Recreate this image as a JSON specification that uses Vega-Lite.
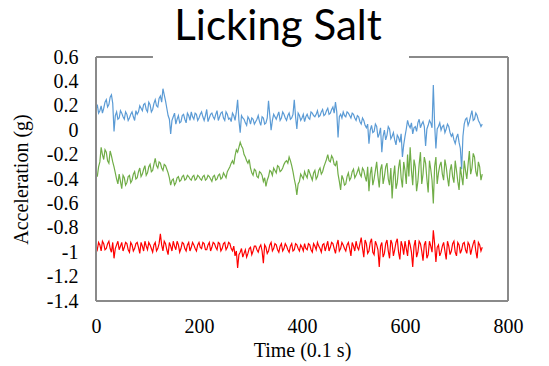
{
  "$schema": "https://vega.github.io/schema/vega-lite/v6.json",
  "autosize": "none",
  "width": 412,
  "height": 244,
  "padding": {"left": 96, "top": 57, "right": 41, "bottom": 65},
  "background": "white",
  "config": {
    "view": {"stroke": null},
    "axis": {"domain": false, "ticks": false, "grid": false, "labelFont": "Liberation Serif", "labelFontSize": 20, "labelColor": "black", "labelFlush": false, "labelOverlap": false, "titleFont": "Liberation Serif", "titleFontSize": 20, "titleFontWeight": "normal", "titleColor": "black"},
    "axisX": {"labelPadding": 15, "titlePadding": 4},
    "axisY": {"labelPadding": 18, "titlePadding": 15}
  },
  "title": {"text": "Licking Salt", "font": "Lato", "fontSize": 42, "fontWeight": "normal", "color": "black", "anchor": "middle", "frame": "group", "dx": -24, "dy": 35, "baseline": "alphabetic", "offset": 0},
  "data": {"values": [
{"t":0,"b":0.17,"g":-0.35,"r":-0.95},{"t":5,"b":0.14,"g":-0.30,"r":-0.92},{"t":10,"b":0.20,"g":-0.14,"r":-0.99},{"t":15,"b":0.18,"g":-0.24,"r":-0.93},{"t":20,"b":0.25,"g":-0.18,"r":-0.97},
{"t":25,"b":0.21,"g":-0.27,"r":-0.91},{"t":30,"b":0.29,"g":-0.21,"r":-1.00},{"t":35,"b":-0.01,"g":-0.30,"r":-1.05},{"t":40,"b":0.15,"g":-0.40,"r":-0.94},{"t":45,"b":0.10,"g":-0.36,"r":-0.98},
{"t":50,"b":0.14,"g":-0.48,"r":-0.92},{"t":55,"b":0.09,"g":-0.39,"r":-0.96},{"t":60,"b":0.13,"g":-0.43,"r":-0.93},{"t":65,"b":0.10,"g":-0.37,"r":-1.00},{"t":70,"b":0.15,"g":-0.41,"r":-0.94},
{"t":75,"b":0.08,"g":-0.34,"r":-0.97},{"t":80,"b":0.13,"g":-0.39,"r":-0.92},{"t":85,"b":0.20,"g":-0.31,"r":-1.01},{"t":90,"b":0.16,"g":-0.36,"r":-0.95},{"t":95,"b":0.22,"g":-0.29,"r":-0.91},
{"t":100,"b":0.15,"g":-0.35,"r":-0.98},{"t":105,"b":0.21,"g":-0.28,"r":-0.94},{"t":110,"b":0.17,"g":-0.33,"r":-1.00},{"t":115,"b":0.25,"g":-0.23,"r":-0.92},{"t":120,"b":0.19,"g":-0.31,"r":-0.97},
{"t":125,"b":0.28,"g":-0.27,"r":-0.85},{"t":130,"b":0.34,"g":-0.33,"r":-0.99},{"t":135,"b":0.24,"g":-0.29,"r":-0.93},{"t":140,"b":0.12,"g":-0.35,"r":-1.02},{"t":145,"b":-0.03,"g":-0.45,"r":-0.95},
{"t":150,"b":0.11,"g":-0.40,"r":-0.91},{"t":155,"b":0.05,"g":-0.43,"r":-0.98},{"t":160,"b":0.12,"g":-0.38,"r":-0.94},{"t":165,"b":0.07,"g":-0.41,"r":-0.97},{"t":170,"b":0.13,"g":-0.37,"r":-0.93},
{"t":175,"b":0.06,"g":-0.40,"r":-0.99},{"t":180,"b":0.12,"g":-0.38,"r":-0.92},{"t":185,"b":0.15,"g":-0.41,"r":-0.96},{"t":190,"b":0.09,"g":-0.37,"r":-0.94},{"t":195,"b":0.13,"g":-0.40,"r":-0.99},
{"t":200,"b":0.10,"g":-0.38,"r":-0.92},{"t":205,"b":0.15,"g":-0.41,"r":-0.97},{"t":210,"b":0.08,"g":-0.37,"r":-0.93},{"t":215,"b":0.17,"g":-0.40,"r":-0.98},{"t":220,"b":0.10,"g":-0.38,"r":-0.92},
{"t":225,"b":0.14,"g":-0.42,"r":-0.96},{"t":230,"b":0.09,"g":-0.37,"r":-0.93},{"t":235,"b":0.16,"g":-0.40,"r":-0.98},{"t":240,"b":0.11,"g":-0.36,"r":-0.93},{"t":245,"b":0.15,"g":-0.39,"r":-0.97},
{"t":250,"b":0.08,"g":-0.37,"r":-0.92},{"t":255,"b":0.13,"g":-0.34,"r":-0.96},{"t":260,"b":0.10,"g":-0.30,"r":-0.93},{"t":265,"b":0.14,"g":-0.25,"r":-0.99},{"t":270,"b":0.08,"g":-0.21,"r":-1.03},
{"t":275,"b":0.25,"g":-0.18,"r":-1.13},{"t":280,"b":-0.02,"g":-0.10,"r":-1.00},{"t":285,"b":0.10,"g":-0.15,"r":-1.04},{"t":290,"b":0.06,"g":-0.22,"r":-0.98},{"t":295,"b":0.11,"g":-0.27,"r":-1.01},
{"t":300,"b":0.05,"g":-0.31,"r":-0.96},{"t":305,"b":0.09,"g":-0.37,"r":-0.99},{"t":310,"b":0.07,"g":-0.33,"r":-0.95},{"t":315,"b":0.12,"g":-0.39,"r":-1.00},{"t":320,"b":0.04,"g":-0.35,"r":-0.94},
{"t":325,"b":0.10,"g":-0.42,"r":-1.09},{"t":330,"b":0.06,"g":-0.46,"r":-0.96},{"t":335,"b":0.24,"g":-0.38,"r":-0.99},{"t":340,"b":0.00,"g":-0.34,"r":-0.92},{"t":345,"b":0.13,"g":-0.31,"r":-0.97},
{"t":350,"b":0.09,"g":-0.35,"r":-0.94},{"t":355,"b":0.15,"g":-0.30,"r":-1.00},{"t":360,"b":0.10,"g":-0.33,"r":-0.93},{"t":365,"b":0.13,"g":-0.28,"r":-0.97},{"t":370,"b":0.08,"g":-0.25,"r":-0.95},
{"t":375,"b":0.14,"g":-0.22,"r":-1.00},{"t":380,"b":0.10,"g":-0.29,"r":-0.93},{"t":385,"b":0.25,"g":-0.40,"r":-0.98},{"t":390,"b":0.01,"g":-0.53,"r":-0.94},{"t":395,"b":0.12,"g":-0.42,"r":-0.99},
{"t":400,"b":0.10,"g":-0.38,"r":-0.96},{"t":405,"b":0.07,"g":-0.34,"r":-0.93},{"t":410,"b":0.13,"g":-0.39,"r":-0.98},{"t":415,"b":0.09,"g":-0.35,"r":-0.94},{"t":420,"b":0.14,"g":-0.41,"r":-1.00},
{"t":425,"b":0.11,"g":-0.33,"r":-0.95},{"t":430,"b":0.16,"g":-0.38,"r":-0.92},{"t":435,"b":0.12,"g":-0.31,"r":-0.97},{"t":440,"b":0.17,"g":-0.34,"r":-0.94},{"t":445,"b":0.13,"g":-0.27,"r":-0.99},
{"t":450,"b":0.18,"g":-0.20,"r":-0.91},{"t":455,"b":0.14,"g":-0.26,"r":-0.96},{"t":460,"b":0.19,"g":-0.23,"r":-0.93},{"t":465,"b":0.23,"g":-0.29,"r":-1.01},{"t":470,"b":-0.06,"g":-0.36,"r":-0.90},
{"t":475,"b":0.13,"g":-0.49,"r":-0.97},{"t":480,"b":0.15,"g":-0.40,"r":-0.94},{"t":485,"b":0.11,"g":-0.44,"r":-0.99},{"t":490,"b":0.14,"g":-0.35,"r":-0.92},{"t":495,"b":0.10,"g":-0.39,"r":-1.03},
{"t":500,"b":0.13,"g":-0.32,"r":-0.95},{"t":505,"b":0.08,"g":-0.37,"r":-0.91},{"t":510,"b":0.11,"g":-0.31,"r":-0.98},{"t":515,"b":0.05,"g":-0.38,"r":-0.88},{"t":520,"b":0.08,"g":-0.33,"r":-1.04},
{"t":525,"b":0.02,"g":-0.42,"r":-0.93},{"t":530,"b":-0.11,"g":-0.50,"r":-0.99},{"t":535,"b":0.04,"g":-0.30,"r":-0.89},{"t":540,"b":-0.01,"g":-0.40,"r":-1.02},{"t":545,"b":0.03,"g":-0.26,"r":-0.94},
{"t":550,"b":-0.03,"g":-0.47,"r":-1.12},{"t":555,"b":-0.18,"g":-0.28,"r":-0.92},{"t":560,"b":0.00,"g":-0.38,"r":-1.01},{"t":565,"b":-0.04,"g":-0.27,"r":-0.90},{"t":570,"b":0.01,"g":-0.45,"r":-1.05},
{"t":575,"b":-0.05,"g":-0.56,"r":-0.93},{"t":580,"b":-0.08,"g":-0.29,"r":-0.98},{"t":585,"b":-0.04,"g":-0.43,"r":-0.89},{"t":590,"b":-0.10,"g":-0.24,"r":-1.06},{"t":595,"b":-0.22,"g":-0.47,"r":-0.95},
{"t":600,"b":-0.05,"g":-0.33,"r":-0.91},{"t":605,"b":0.08,"g":-0.20,"r":-1.03},{"t":610,"b":0.02,"g":-0.14,"r":-0.94},{"t":615,"b":-0.03,"g":-0.45,"r":-1.12},{"t":620,"b":0.03,"g":-0.30,"r":-0.90},
{"t":625,"b":0.06,"g":-0.42,"r":-1.00},{"t":630,"b":0.02,"g":-0.18,"r":-0.93},{"t":635,"b":0.07,"g":-0.36,"r":-1.07},{"t":640,"b":-0.13,"g":-0.27,"r":-0.91},{"t":645,"b":0.04,"g":-0.51,"r":-1.02},
{"t":650,"b":0.06,"g":-0.32,"r":-0.95},{"t":655,"b":0.37,"g":-0.60,"r":-0.82},{"t":660,"b":-0.15,"g":-0.22,"r":-1.08},{"t":665,"b":0.03,"g":-0.35,"r":-0.94},{"t":670,"b":0.00,"g":-0.26,"r":-1.00},
{"t":675,"b":0.04,"g":-0.41,"r":-0.92},{"t":680,"b":0.01,"g":-0.30,"r":-1.06},{"t":685,"b":0.03,"g":-0.46,"r":-0.95},{"t":690,"b":-0.05,"g":-0.28,"r":-0.99},{"t":695,"b":-0.08,"g":-0.43,"r":-0.91},
{"t":700,"b":-0.06,"g":-0.33,"r":-1.03},{"t":705,"b":-0.10,"g":-0.49,"r":-0.94},{"t":710,"b":-0.32,"g":-0.38,"r":-0.98},{"t":715,"b":0.05,"g":-0.25,"r":-0.92},{"t":720,"b":0.10,"g":-0.40,"r":-1.01},
{"t":725,"b":0.07,"g":-0.17,"r":-0.94},{"t":730,"b":0.16,"g":-0.31,"r":-0.97},{"t":735,"b":0.09,"g":-0.22,"r":-0.90},{"t":740,"b":0.12,"g":-0.38,"r":-1.05},{"t":745,"b":0.06,"g":-0.30,"r":-0.94},
{"t":750,"b":0.05,"g":-0.36,"r":-0.96},
{"t":2.5,"b":0.21,"g":-0.38,"r":-0.98},{"t":7.5,"b":0.16,"g":-0.26,"r":-0.94},{"t":12.5,"b":0.14,"g":-0.20,"r":-0.91},{"t":17.5,"b":0.23,"g":-0.16,"r":-0.98},{"t":22.5,"b":0.19,"g":-0.25,"r":-0.93},
{"t":27.5,"b":0.27,"g":-0.17,"r":-0.97},{"t":32.5,"b":0.22,"g":-0.26,"r":-0.92},{"t":37.5,"b":0.12,"g":-0.35,"r":-0.97},{"t":42.5,"b":0.09,"g":-0.44,"r":-0.91},{"t":47.5,"b":0.16,"g":-0.42,"r":-0.95},
{"t":52.5,"b":0.11,"g":-0.37,"r":-0.99},{"t":57.5,"b":0.15,"g":-0.45,"r":-0.92},{"t":62.5,"b":0.08,"g":-0.38,"r":-0.98},{"t":67.5,"b":0.13,"g":-0.43,"r":-0.92},{"t":72.5,"b":0.11,"g":-0.36,"r":-0.99},
{"t":77.5,"b":0.16,"g":-0.40,"r":-0.93},{"t":82.5,"b":0.15,"g":-0.34,"r":-0.96},{"t":87.5,"b":0.18,"g":-0.38,"r":-0.92},{"t":92.5,"b":0.21,"g":-0.32,"r":-0.99},{"t":97.5,"b":0.17,"g":-0.37,"r":-0.95},
{"t":102.5,"b":0.23,"g":-0.30,"r":-0.92},{"t":107.5,"b":0.15,"g":-0.34,"r":-0.97},{"t":112.5,"b":0.22,"g":-0.28,"r":-0.94},{"t":117.5,"b":0.20,"g":-0.29,"r":-0.99},{"t":122.5,"b":0.26,"g":-0.26,"r":-0.93},
{"t":127.5,"b":0.23,"g":-0.31,"r":-0.94},{"t":132.5,"b":0.29,"g":-0.28,"r":-0.91},{"t":137.5,"b":0.18,"g":-0.32,"r":-0.98},{"t":142.5,"b":0.09,"g":-0.39,"r":-0.92},{"t":147.5,"b":0.08,"g":-0.41,"r":-0.99},
{"t":152.5,"b":0.14,"g":-0.45,"r":-0.95},{"t":157.5,"b":0.09,"g":-0.39,"r":-0.91},{"t":162.5,"b":0.06,"g":-0.42,"r":-1.00},{"t":167.5,"b":0.12,"g":-0.38,"r":-0.92},{"t":172.5,"b":0.09,"g":-0.41,"r":-0.97},
{"t":177.5,"b":0.14,"g":-0.37,"r":-0.94},{"t":182.5,"b":0.08,"g":-0.40,"r":-0.99},{"t":187.5,"b":0.11,"g":-0.38,"r":-0.92},{"t":192.5,"b":0.14,"g":-0.41,"r":-0.97},{"t":197.5,"b":0.08,"g":-0.37,"r":-0.94},
{"t":202.5,"b":0.13,"g":-0.40,"r":-0.96},{"t":207.5,"b":0.11,"g":-0.38,"r":-0.92},{"t":212.5,"b":0.12,"g":-0.41,"r":-0.98},{"t":217.5,"b":0.07,"g":-0.37,"r":-0.94},{"t":222.5,"b":0.13,"g":-0.40,"r":-0.99},
{"t":227.5,"b":0.11,"g":-0.38,"r":-0.92},{"t":232.5,"b":0.13,"g":-0.41,"r":-0.96},{"t":237.5,"b":0.08,"g":-0.37,"r":-0.92},{"t":242.5,"b":0.14,"g":-0.40,"r":-0.99},{"t":247.5,"b":0.10,"g":-0.35,"r":-0.93},
{"t":252.5,"b":0.15,"g":-0.39,"r":-0.98},{"t":257.5,"b":0.09,"g":-0.32,"r":-0.92},{"t":262.5,"b":0.07,"g":-0.27,"r":-0.97},{"t":267.5,"b":0.12,"g":-0.28,"r":-0.95},{"t":272.5,"b":0.15,"g":-0.16,"r":-0.99},
{"t":277.5,"b":0.08,"g":-0.14,"r":-1.02},{"t":282.5,"b":0.12,"g":-0.13,"r":-0.97},{"t":287.5,"b":0.09,"g":-0.20,"r":-1.01},{"t":292.5,"b":0.04,"g":-0.25,"r":-1.04},{"t":297.5,"b":0.09,"g":-0.24,"r":-0.97},
{"t":302.5,"b":0.10,"g":-0.35,"r":-1.02},{"t":307.5,"b":0.05,"g":-0.32,"r":-0.95},{"t":312.5,"b":0.09,"g":-0.38,"r":-0.98},{"t":317.5,"b":0.07,"g":-0.34,"r":-0.96},{"t":322.5,"b":0.11,"g":-0.37,"r":-0.99},
{"t":327.5,"b":0.05,"g":-0.39,"r":-0.94},{"t":332.5,"b":0.10,"g":-0.41,"r":-1.01},{"t":337.5,"b":0.12,"g":-0.33,"r":-0.94},{"t":342.5,"b":0.08,"g":-0.37,"r":-0.99},{"t":347.5,"b":0.11,"g":-0.33,"r":-0.93},
{"t":352.5,"b":0.12,"g":-0.29,"r":-0.98},{"t":357.5,"b":0.08,"g":-0.34,"r":-0.95},{"t":362.5,"b":0.15,"g":-0.31,"r":-0.99},{"t":367.5,"b":0.10,"g":-0.26,"r":-0.93},{"t":372.5,"b":0.12,"g":-0.27,"r":-0.98},
{"t":377.5,"b":0.09,"g":-0.25,"r":-0.95},{"t":382.5,"b":0.13,"g":-0.34,"r":-0.99},{"t":387.5,"b":0.11,"g":-0.45,"r":-0.93},{"t":392.5,"b":0.14,"g":-0.44,"r":-0.97},{"t":397.5,"b":0.08,"g":-0.36,"r":-0.94},
{"t":402.5,"b":0.13,"g":-0.40,"r":-0.99},{"t":407.5,"b":0.11,"g":-0.37,"r":-0.97},{"t":412.5,"b":0.10,"g":-0.32,"r":-0.93},{"t":417.5,"b":0.15,"g":-0.38,"r":-0.98},{"t":422.5,"b":0.12,"g":-0.35,"r":-0.93},
{"t":427.5,"b":0.13,"g":-0.40,"r":-0.98},{"t":432.5,"b":0.11,"g":-0.33,"r":-0.95},{"t":437.5,"b":0.15,"g":-0.36,"r":-1.00},{"t":442.5,"b":0.12,"g":-0.30,"r":-0.93},{"t":447.5,"b":0.16,"g":-0.24,"r":-0.95},
{"t":452.5,"b":0.13,"g":-0.25,"r":-0.99},{"t":457.5,"b":0.17,"g":-0.21,"r":-0.92},{"t":462.5,"b":0.14,"g":-0.28,"r":-0.97},{"t":467.5,"b":0.15,"g":-0.25,"r":-0.94},{"t":472.5,"b":0.11,"g":-0.42,"r":-0.99},
{"t":477.5,"b":0.10,"g":-0.37,"r":-0.92},{"t":482.5,"b":0.12,"g":-0.45,"r":-0.97},{"t":487.5,"b":0.15,"g":-0.38,"r":-0.94},{"t":492.5,"b":0.12,"g":-0.41,"r":-0.97},{"t":497.5,"b":0.14,"g":-0.34,"r":-0.92},
{"t":502.5,"b":0.10,"g":-0.39,"r":-0.99},{"t":507.5,"b":0.12,"g":-0.34,"r":-0.96},{"t":512.5,"b":0.07,"g":-0.36,"r":-0.93},{"t":517.5,"b":0.10,"g":-0.31,"r":-0.97},{"t":522.5,"b":0.04,"g":-0.38,"r":-0.90},
{"t":527.5,"b":0.05,"g":-0.30,"r":-1.01},{"t":532.5,"b":0.00,"g":-0.36,"r":-0.92},{"t":537.5,"b":-0.02,"g":-0.45,"r":-1.00},{"t":542.5,"b":0.05,"g":-0.33,"r":-0.91},{"t":547.5,"b":-0.06,"g":-0.38,"r":-0.98},
{"t":552.5,"b":0.02,"g":-0.32,"r":-0.95},{"t":557.5,"b":-0.05,"g":-0.44,"r":-1.04},{"t":562.5,"b":-0.08,"g":-0.30,"r":-0.93},{"t":567.5,"b":0.03,"g":-0.40,"r":-0.99},{"t":572.5,"b":-0.07,"g":-0.31,"r":-0.90},
{"t":577.5,"b":-0.02,"g":-0.38,"r":-1.03},{"t":582.5,"b":-0.12,"g":-0.48,"r":-0.92},{"t":587.5,"b":-0.06,"g":-0.31,"r":-1.00},{"t":592.5,"b":-0.03,"g":-0.39,"r":-0.91},{"t":597.5,"b":-0.12,"g":-0.26,"r":-1.02},
{"t":602.5,"b":0.01,"g":-0.44,"r":-0.97},{"t":607.5,"b":0.04,"g":-0.38,"r":-0.90},{"t":612.5,"b":0.06,"g":-0.33,"r":-1.00},{"t":617.5,"b":0.02,"g":-0.24,"r":-0.95},{"t":622.5,"b":-0.01,"g":-0.50,"r":-1.04},
{"t":627.5,"b":0.09,"g":-0.28,"r":-0.91},{"t":632.5,"b":0.05,"g":-0.44,"r":-0.99},{"t":637.5,"b":0.03,"g":-0.22,"r":-0.94},{"t":642.5,"b":0.01,"g":-0.40,"r":-1.05},{"t":647.5,"b":0.08,"g":-0.25,"r":-0.91},
{"t":652.5,"b":0.02,"g":-0.41,"r":-1.00},{"t":657.5,"b":0.05,"g":-0.30,"r":-0.93},{"t":662.5,"b":0.01,"g":-0.44,"r":-0.96},{"t":667.5,"b":0.06,"g":-0.29,"r":-1.03},{"t":672.5,"b":0.03,"g":-0.36,"r":-0.95},
{"t":677.5,"b":-0.02,"g":-0.24,"r":-0.99},{"t":682.5,"b":0.05,"g":-0.39,"r":-0.91},{"t":687.5,"b":-0.02,"g":-0.33,"r":-1.02},{"t":692.5,"b":-0.03,"g":-0.38,"r":-0.93},{"t":697.5,"b":-0.11,"g":-0.25,"r":-1.00},
{"t":702.5,"b":-0.03,"g":-0.42,"r":-0.92},{"t":707.5,"b":-0.15,"g":-0.30,"r":-1.01},{"t":712.5,"b":-0.05,"g":-0.45,"r":-0.93},{"t":717.5,"b":0.09,"g":-0.33,"r":-0.98},{"t":722.5,"b":0.04,"g":-0.28,"r":-0.92},
{"t":727.5,"b":0.12,"g":-0.36,"r":-1.02},{"t":732.5,"b":0.08,"g":-0.19,"r":-0.93},{"t":737.5,"b":0.14,"g":-0.34,"r":-0.99},{"t":742.5,"b":0.08,"g":-0.26,"r":-0.92},{"t":747.5,"b":0.03,"g":-0.41,"r":-0.99}
  ]},
  "layer": [
    {
      "transform": [{"fold": ["b", "g", "r"], "as": ["series", "value"]}],
      "mark": {"type": "line", "strokeWidth": 1.2, "clip": true},
      "encoding": {
        "x": {"field": "t", "type": "quantitative", "scale": {"domain": [0, 800], "nice": false},
              "axis": {"values": [0, 200, 400, 600, 800], "title": "Time (0.1 s)"}},
        "y": {"field": "value", "type": "quantitative", "scale": {"domain": [-1.4, 0.6], "nice": false, "zero": false},
              "axis": {"values": [-1.4, -1.2, -1, -0.8, -0.6, -0.4, -0.2, 0, 0.2, 0.4, 0.6], "labelExpr": "'' + datum.value", "title": "Acceleration (g)"}},
        "color": {"field": "series", "type": "nominal", "scale": {"domain": ["b", "g", "r"], "range": ["#5B9BD5", "#70AD47", "#FF0000"]}, "legend": null},
        "order": {"field": "t", "type": "quantitative"}
      }
    },
    {"mark": {"type": "rule", "color": "#8a8a8a", "strokeWidth": 1.3}, "encoding": {
      "x": {"datum": 0, "type": "quantitative", "axis": {"values": [0, 200, 400, 600, 800], "title": "Time (0.1 s)"}},
      "y": {"datum": -1.4, "type": "quantitative", "axis": {"values": [-1.4, -1.2, -1, -0.8, -0.6, -0.4, -0.2, 0, 0.2, 0.4, 0.6], "labelExpr": "'' + datum.value", "title": "Acceleration (g)"}},
      "y2": {"datum": 0.6}}},
    {"mark": {"type": "rule", "color": "#8a8a8a", "strokeWidth": 1.3}, "encoding": {
      "x": {"datum": 800, "type": "quantitative", "axis": {"values": [0, 200, 400, 600, 800], "title": "Time (0.1 s)"}},
      "y": {"datum": -1.4, "type": "quantitative", "axis": {"values": [-1.4, -1.2, -1, -0.8, -0.6, -0.4, -0.2, 0, 0.2, 0.4, 0.6], "labelExpr": "'' + datum.value", "title": "Acceleration (g)"}},
      "y2": {"datum": 0.6}}},
    {"mark": {"type": "rule", "color": "#8a8a8a", "strokeWidth": 1.3}, "encoding": {
      "x": {"datum": 0, "type": "quantitative", "axis": {"values": [0, 200, 400, 600, 800], "title": "Time (0.1 s)"}},
      "x2": {"datum": 800},
      "y": {"datum": -1.4, "type": "quantitative", "axis": {"values": [-1.4, -1.2, -1, -0.8, -0.6, -0.4, -0.2, 0, 0.2, 0.4, 0.6], "labelExpr": "'' + datum.value", "title": "Acceleration (g)"}}}},
    {"mark": {"type": "rule", "color": "#8a8a8a", "strokeWidth": 1.3}, "encoding": {
      "x": {"datum": 0, "type": "quantitative", "axis": {"values": [0, 200, 400, 600, 800], "title": "Time (0.1 s)"}},
      "x2": {"datum": 109},
      "y": {"datum": 0.6, "type": "quantitative", "axis": {"values": [-1.4, -1.2, -1, -0.8, -0.6, -0.4, -0.2, 0, 0.2, 0.4, 0.6], "labelExpr": "'' + datum.value", "title": "Acceleration (g)"}}}},
    {"mark": {"type": "rule", "color": "#8a8a8a", "strokeWidth": 1.3}, "encoding": {
      "x": {"datum": 608, "type": "quantitative", "axis": {"values": [0, 200, 400, 600, 800], "title": "Time (0.1 s)"}},
      "x2": {"datum": 800},
      "y": {"datum": 0.6, "type": "quantitative", "axis": {"values": [-1.4, -1.2, -1, -0.8, -0.6, -0.4, -0.2, 0, 0.2, 0.4, 0.6], "labelExpr": "'' + datum.value", "title": "Acceleration (g)"}}}}
  ]
}
